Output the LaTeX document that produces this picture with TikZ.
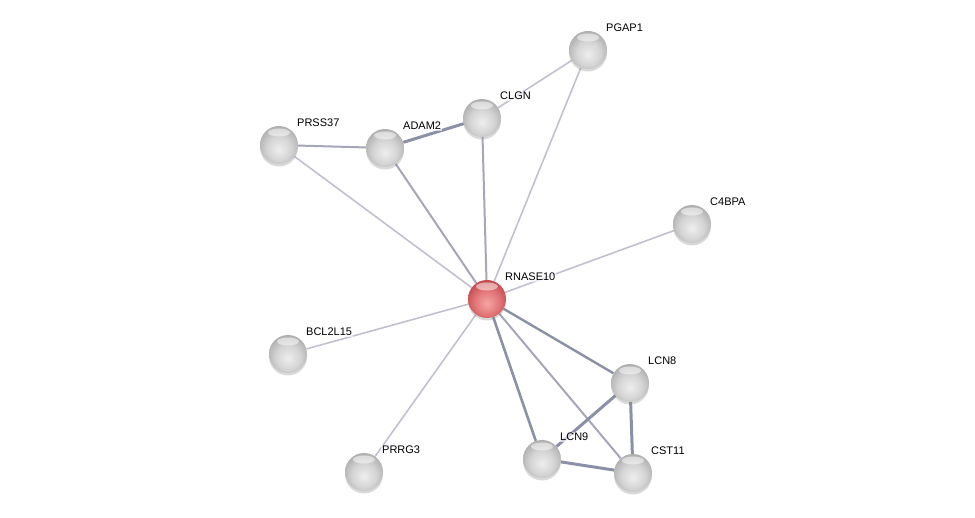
\documentclass[tikz,border=0pt]{standalone}
\usepackage{fontspec}
\setmainfont{Liberation Sans}
\usetikzlibrary{shadows}
\pgfdeclarelayer{bg}
\pgfsetlayers{bg,main}
\definecolor{elight}{RGB}{194,192,206}
\definecolor{emed}{RGB}{165,166,184}
\definecolor{edark}{RGB}{140,144,166}
\definecolor{gA}{RGB}{238,238,238}
\definecolor{gB}{RGB}{212,212,212}
\definecolor{gC}{RGB}{165,165,165}
\definecolor{gD}{RGB}{105,105,105}
\definecolor{rA}{RGB}{246,165,165}
\definecolor{rB}{RGB}{226,118,120}
\definecolor{rC}{RGB}{188,64,68}
\definecolor{rD}{RGB}{125,28,32}
\pgfdeclareradialshading{sphgray}{\pgfpoint{0bp}{-6bp}}{color(0bp)=(gA); color(16bp)=(gB); color(32bp)=(gC); color(50bp)=(gD); color(80bp)=(gD)}
\pgfdeclareradialshading{sphred}{\pgfpoint{0bp}{-6bp}}{color(0bp)=(rA); color(16bp)=(rB); color(32bp)=(rC); color(50bp)=(rD); color(80bp)=(rD)}
\tikzset{
  prot/.style={circle,minimum size=38pt,inner sep=0pt,shading=sphgray,
    drop shadow={shadow xshift=0pt,shadow yshift=-2.5pt,opacity=0.3},
    path picture={\fill[white,opacity=0.5] ([yshift=-6.5pt]path picture bounding box.north) ellipse (11pt and 4pt);}},
  query/.style={prot,shading=sphred},
  lab/.style={anchor=west,font=\fontsize{11}{13}\selectfont,inner sep=1pt,fill=white,fill opacity=0.6,text opacity=1},
  elink/.style={elight,line width=1.6pt},
  mlink/.style={emed,line width=2pt},
  dlink/.style={edark,line width=3pt},
}
\begin{document}
\begin{tikzpicture}[x=1pt,y=-1pt]
\useasboundingbox (0,0) rectangle (975,518);
\foreach \n/\x/\y in {PGAP1/588/50, CLGN/482/118, ADAM2/385/148, PRSS37/279/145, C4BPA/692/224,
  BCL2L15/288/354, LCN8/630/383, PRRG3/364/472, LCN9/542/459, CST11/633/473}{
  \node[prot] (\n) at (\x,\y) {};
  \node[lab] (\n-l) at (\x+17,\y-22) {\n};
}
\node[query] (RNASE10) at (487,299) {};
\node[lab] (RNASE10-l) at (504,277) {RNASE10};
\begin{pgfonlayer}{bg}
\draw[elink] (PGAP1) -- (CLGN);
\draw[elink] (PGAP1) -- (RNASE10);
\draw[dlink] (CLGN) -- (ADAM2);
\draw[mlink] (CLGN) -- (RNASE10);
\draw[mlink] (ADAM2) -- (PRSS37);
\draw[mlink] (ADAM2) -- (RNASE10);
\draw[elink] (PRSS37) -- (RNASE10);
\draw[elink] (C4BPA) -- (RNASE10);
\draw[elink] (BCL2L15) -- (RNASE10);
\draw[elink] (PRRG3) -- (RNASE10);
\draw[dlink,line width=2.4pt] (RNASE10) -- (LCN8);
\draw[dlink,line width=2.6pt] (RNASE10) -- (LCN9);
\draw[mlink] (RNASE10) -- (CST11);
\draw[dlink] (LCN8) -- (LCN9);
\draw[dlink] (LCN8) -- (CST11);
\draw[dlink] (LCN9) -- (CST11);
\end{pgfonlayer}
\end{tikzpicture}
\end{document}
